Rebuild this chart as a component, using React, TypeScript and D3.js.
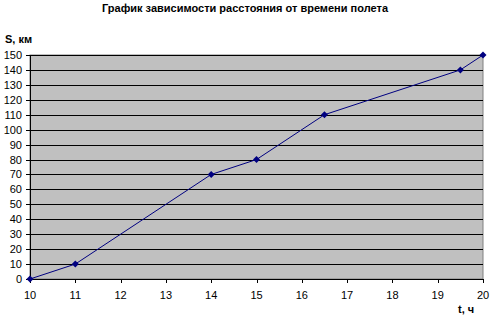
import React from "react";
import * as d3 from "d3";

// Flight time (hours) and distance covered (km)
const timeHours = [10, 11, 14, 15, 16.5, 19.5, 20];
const distanceKm = [0, 10, 70, 80, 110, 140, 150];
const xTicks = [10, 11, 12, 13, 14, 15, 16, 17, 18, 19, 20];
const yTicks = [0, 10, 20, 30, 40, 50, 60, 70, 80, 90, 100, 110, 120, 130, 140, 150];

const W = 490;
const H = 318;
const left = 30;
const right = 483;
const top = 55;
const bottom = 279;

export default function App() {
  const x = d3.scaleLinear().domain([10, 20]).range([left, right]);
  const y = d3.scaleLinear().domain([0, 150]).range([bottom, top]);
  const points = timeHours.map((t, i) => [t, distanceKm[i]] as [number, number]);
  const line = d3
    .line<[number, number]>()
    .x((d) => x(d[0]))
    .y((d) => y(d[1]));
  const font = "Arial, 'Liberation Sans', sans-serif";

  return (
    <svg
      width={W}
      height={H}
      style={{ position: "absolute", left: 0, top: 0, background: "#fff" }}
      fontFamily={font}
    >
      <text x={245} y={12} textAnchor="middle" fontSize={11} fontWeight="bold">
        График зависимости расстояния от времени полета
      </text>
      <rect x={left} y={top} width={right - left} height={bottom - top} fill="#c0c0c0" stroke="#808080" strokeWidth={1} />
      {yTicks.map((v) => (
        <g key={v}>
          <line x1={left} x2={right} y1={Math.round(y(v)) + 0.5} y2={Math.round(y(v)) + 0.5} stroke="#000" strokeWidth={1} />
          <line x1={left - 4} x2={left} y1={Math.round(y(v)) + 0.5} y2={Math.round(y(v)) + 0.5} stroke="#000" />
          <text x={left - 8} y={y(v) + 4} textAnchor="end" fontSize={11}>
            {v}
          </text>
        </g>
      ))}
      {xTicks.map((v) => (
        <g key={v}>
          <line x1={Math.round(x(v)) + 0.5} x2={Math.round(x(v)) + 0.5} y1={bottom} y2={bottom + 4} stroke="#000" />
          <text x={x(v)} y={bottom + 20} textAnchor="middle" fontSize={11}>
            {v}
          </text>
        </g>
      ))}
      <line x1={left + 0.5} x2={left + 0.5} y1={top} y2={bottom} stroke="#000" />
      <line x1={left} x2={right} y1={bottom + 0.5} y2={bottom + 0.5} stroke="#000" />
      <path d={line(points) ?? ""} fill="none" stroke="#000080" strokeWidth={1} />
      {points.map((p, i) => {
        const cx = x(p[0]);
        const cy = y(p[1]);
        return (
          <path
            key={i}
            d={`M${cx},${cy - 3.5}L${cx + 3.5},${cy}L${cx},${cy + 3.5}L${cx - 3.5},${cy}Z`}
            fill="#000080"
          />
        );
      })}
      <text x={5} y={43} fontSize={11} fontWeight="bold">
        S, км
      </text>
      <text x={458} y={313} fontSize={11} fontWeight="bold">
        t, ч
      </text>
    </svg>
  );
}
